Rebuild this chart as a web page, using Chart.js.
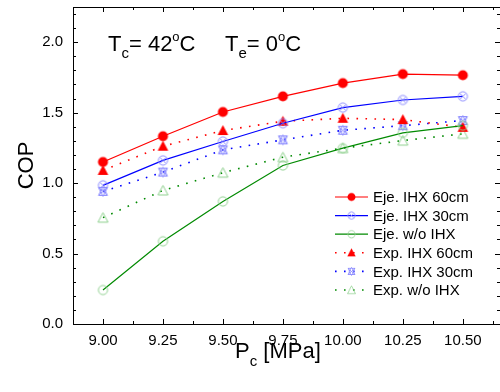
<!DOCTYPE html>
<html>
<head>
<meta charset="utf-8">
<script src="https://cdn.jsdelivr.net/npm/chart.js@4/dist/chart.umd.min.js"></script>
<style>
  body { margin: 0; background: #fff; }
  canvas { display: block; }
</style>
</head>
<body>
<canvas id="copChart" width="500" height="392"></canvas>
<script>
// data
var pressure = [9.00, 9.25, 9.50, 9.75, 10.00, 10.25, 10.50];
var ejeIhx60 = [1.150, 1.333, 1.505, 1.616, 1.710, 1.774, 1.766];
var ejeIhx30 = [0.984, 1.161, 1.295, 1.425, 1.536, 1.590, 1.616];
var ejeNoIhx = [0.241, 0.587, 0.870, 1.125, 1.248, 1.357, 1.408];
var expIhx60 = [1.090, 1.262, 1.373, 1.439, 1.460, 1.451, 1.396];
var expIhx30 = [0.941, 1.078, 1.236, 1.307, 1.375, 1.408, 1.444];
var expNoIhx = [0.755, 0.948, 1.074, 1.184, 1.248, 1.302, 1.350];
var seriesNames = ['Eje. IHX 60cm', 'Eje. IHX 30cm', 'Eje. w/o IHX',
                   'Exp. IHX 60cm', 'Exp. IHX 30cm', 'Exp. w/o IHX'];
var xTickValues = [9.00, 9.25, 9.50, 9.75, 10.00, 10.25, 10.50];
var yTickValues = [0.0, 0.5, 1.0, 1.5, 2.0];

var FONT = "'Liberation Sans', Arial, sans-serif";
var lightBlue = '#8c8cff';
var lightGreen = '#8fd08f';

function makeMarker(draw) {
  var c = document.createElement('canvas');
  c.width = 15; c.height = 15;
  var g = c.getContext('2d');
  g.lineWidth = 1;
  draw(g);
  return c;
}
var mkRedCircle = makeMarker(function (g) {
  g.fillStyle = '#ff0000';
  g.beginPath(); g.arc(7.5, 7.5, 5, 0, Math.PI * 2); g.fill();
});
var mkBlueCircle = makeMarker(function (g) {
  g.strokeStyle = lightBlue;
  g.beginPath(); g.arc(7.5, 7.5, 4.6, 0, Math.PI * 2); g.stroke();
  g.beginPath();
  g.moveTo(4.4, 4.4); g.lineTo(10.6, 10.6);
  g.moveTo(10.6, 4.4); g.lineTo(4.4, 10.6);
  g.stroke();
});
var mkGreenCircle = makeMarker(function (g) {
  g.strokeStyle = lightGreen;
  g.beginPath(); g.arc(7.5, 7.5, 4.6, 0, Math.PI * 2); g.stroke();
});
var mkRedTriangle = makeMarker(function (g) {
  g.fillStyle = '#ff0000';
  g.beginPath(); g.moveTo(7.5, 2); g.lineTo(12.8, 12); g.lineTo(2.2, 12); g.closePath(); g.fill();
});
var mkBlueHourglass = makeMarker(function (g) {
  g.strokeStyle = lightBlue;
  g.beginPath();
  g.moveTo(7.5, 2.5); g.lineTo(12, 11.5); g.lineTo(3, 11.5); g.closePath();
  g.moveTo(7.5, 12.5); g.lineTo(12, 3.5); g.lineTo(3, 3.5); g.closePath();
  g.moveTo(3, 3.5); g.lineTo(12, 11.5);
  g.moveTo(12, 3.5); g.lineTo(3, 11.5);
  g.stroke();
});
var mkGreenTriangle = makeMarker(function (g) {
  g.strokeStyle = lightGreen;
  g.beginPath(); g.moveTo(7.5, 2.5); g.lineTo(12.5, 12); g.lineTo(2.5, 12); g.closePath(); g.stroke();
});

function pts(ys) {
  return pressure.map(function (x, i) { return { x: x, y: ys[i] }; });
}
function series(i, ys, color, marker, dotted) {
  return {
    label: seriesNames[i],
    data: pts(ys),
    showLine: true,
    borderColor: color,
    backgroundColor: color,
    borderWidth: dotted ? 1.6 : 1.2,
    borderDash: dotted ? [1.6, 7.4] : [],
    pointStyle: marker,
    pointRadius: 5,
    tension: 0
  };
}

var datasets = [
  series(0, ejeIhx60, '#ff0000', mkRedCircle, false),
  series(1, ejeIhx30, '#0000ff', mkBlueCircle, false),
  series(2, ejeNoIhx, '#008a00', mkGreenCircle, false),
  series(3, expIhx60, '#ff0000', mkRedTriangle, true),
  series(4, expIhx30, '#0000ff', mkBlueHourglass, true),
  series(5, expNoIhx, '#008a00', mkGreenTriangle, true)
];

function noPad(s) {
  s.paddingTop = 0; s.paddingBottom = 0; s.paddingLeft = 0; s.paddingRight = 0;
}

// inward ticks, frame, legend, annotation and x title
var decorations = {
  id: 'decorations',
  afterDraw: function (chart) {
    var ctx = chart.ctx, a = chart.chartArea;
    var xs = chart.scales.x, ys = chart.scales.y;
    ctx.save();
    ctx.strokeStyle = '#000';
    ctx.lineWidth = 1;
    ctx.beginPath();
    ctx.moveTo(a.left + 0.5, a.top + 0.5); ctx.lineTo(a.right, a.top + 0.5);
    ctx.moveTo(a.left + 0.5, a.top); ctx.lineTo(a.left + 0.5, a.bottom + 0.5);
    ctx.moveTo(a.left, a.bottom + 0.5); ctx.lineTo(a.right, a.bottom + 0.5);
    var v, px, len;
    for (v = 9.0; v <= 10.65; v += 0.125) {
      px = Math.round(xs.getPixelForValue(v)) + 0.5;
      len = (Math.abs(v / 0.25 - Math.round(v / 0.25)) < 1e-6) ? 5 : 3;
      ctx.moveTo(px, a.bottom); ctx.lineTo(px, a.bottom - len);
      ctx.moveTo(px, a.top); ctx.lineTo(px, a.top + len);
    }
    for (var k = 0; k <= 22; k++) {
      v = k / 10;
      px = Math.round(ys.getPixelForValue(v)) + 0.5;
      len = (k % 5 === 0) ? 5 : 3;
      ctx.moveTo(a.left, px); ctx.lineTo(a.left + len, px);
      ctx.moveTo(a.right, px); ctx.lineTo(a.right - len, px);
    }
    ctx.stroke();

    // legend
    var lx = a.right - 165, ly = a.bottom - 127, step = 18.6;
    ctx.font = '15px ' + FONT;
    ctx.textBaseline = 'middle';
    ctx.textAlign = 'left';
    chart.data.datasets.forEach(function (ds, i) {
      var y = ly + i * step;
      ctx.save();
      ctx.strokeStyle = ds.borderColor;
      ctx.lineWidth = ds.borderWidth;
      ctx.setLineDash(ds.borderDash);
      ctx.beginPath();
      ctx.moveTo(lx, y); ctx.lineTo(lx + (ds.borderDash.length ? 30 : 33), y);
      ctx.stroke();
      ctx.restore();
      ctx.drawImage(ds.pointStyle, lx + 16.5 - 6, y - 6, 12, 12);
      ctx.fillStyle = '#000';
      ctx.fillText(ds.label, lx + 38, y + 1);
    });

    // annotation T_c = 42°C   T_e = 0°C
    ctx.textBaseline = 'alphabetic';
    function piece(txt, size, dy, x, base) {
      ctx.font = size + 'px ' + FONT;
      ctx.fillText(txt, x, base + dy);
      return x + ctx.measureText(txt).width;
    }
    var base = 51, x = 108;
    x = piece('T', 22, 0, x, base);
    x = piece('c', 15, 7, x, base);
    x = piece('= 42', 22, 0, x, base);
    x = piece('o', 13, -10, x, base);
    piece('C', 22, 0, x, base);
    x = 225;
    x = piece('T', 22, 0, x, base);
    x = piece('e', 15, 7, x, base);
    x = piece('= 0', 22, 0, x, base);
    x = piece('o', 13, -10, x, base);
    piece('C', 22, 0, x, base);

    // x axis title P_c [MPa]
    x = 235;
    x = piece('P', 22, 0, x, 358);
    x = piece('c', 15, 8, x, 358);
    piece(' [MPa]', 22, 0, x, 358);
    ctx.restore();
  }
};

new Chart(document.getElementById('copChart'), {
  type: 'scatter',
  data: { datasets: datasets },
  options: {
    responsive: false,
    animation: false,
    layout: { autoPadding: false, padding: { top: 7, right: 0, left: 0, bottom: 0 } },
    plugins: { legend: { display: false }, tooltip: { enabled: false } },
    scales: {
      x: {
        type: 'linear',
        min: 8.875,
        max: 10.655,
        grid: { display: false, drawTicks: false },
        border: { display: false },
        afterBuildTicks: function (s) { s.ticks = xTickValues.map(function (v) { return { value: v }; }); },
        afterFit: function (s) { s.height = 68; noPad(s); },
        ticks: {
          padding: 8,
          color: '#000',
          font: { family: FONT, size: 15 },
          callback: function (v) { return Number(v).toFixed(2); }
        }
      },
      y: {
        min: 0,
        max: 2.25,
        grid: { display: false, drawTicks: false },
        border: { display: false },
        afterBuildTicks: function (s) { s.ticks = yTickValues.map(function (v) { return { value: v }; }); },
        afterFit: function (s) { s.width = 73; noPad(s); },
        title: {
          display: true,
          text: 'COP',
          color: '#000',
          font: { family: FONT, size: 22 },
          padding: { top: 14, bottom: 0 }
        },
        ticks: {
          padding: 10,
          color: '#000',
          font: { family: FONT, size: 15 },
          callback: function (v) { return Number(v).toFixed(1); }
        }
      }
    }
  },
  plugins: [decorations]
});
</script>
</body>
</html>
